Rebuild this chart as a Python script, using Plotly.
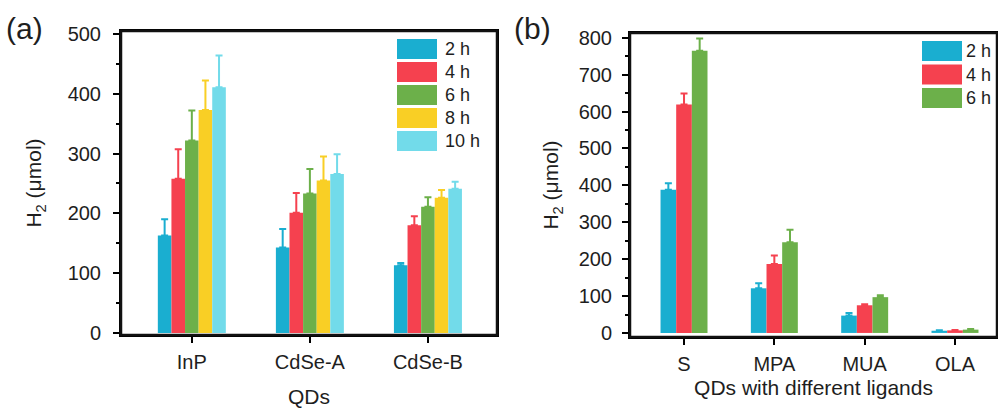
import plotly.graph_objects as go

# ---- data ----
qds = ["InP", "CdSe-A", "CdSe-B"]
times_a = ["2 h", "4 h", "6 h", "8 h", "10 h"]
h2_a = {
    "2 h": [163, 143, 113],
    "4 h": [258, 201, 180],
    "6 h": [322, 233, 211],
    "8 h": [373, 255, 226],
    "10 h": [411, 266, 241],
}
err_a = {
    "2 h": [27, 31, 4],
    "4 h": [49, 33, 15],
    "6 h": [50, 41, 16],
    "8 h": [49, 40, 13],
    "10 h": [53, 33, 12],
}

ligands = ["S", "MPA", "MUA", "OLA"]
times_b = ["2 h", "4 h", "6 h"]
h2_b = {
    "2 h": [388, 121, 47, 6],
    "4 h": [619, 187, 75, 7],
    "6 h": [765, 246, 97, 9],
}
err_b = {
    "2 h": [18, 14, 7, 1],
    "4 h": [30, 23, 3, 1],
    "6 h": [33, 34, 5, 2],
}

colors = {
    "2 h": "#1aaed0",
    "4 h": "#f5414f",
    "6 h": "#6cb04a",
    "8 h": "#f9cf25",
    "10 h": "#72dbea",
}

FONT = "Liberation Sans, Arial, sans-serif"
TXT = "#1e1e1e"

fig = go.Figure()

# panel (a) bars
grp_a = 0.576
w_a = grp_a / len(times_a)
for i, t in enumerate(times_a):
    fig.add_trace(go.Bar(
        x=qds, y=h2_a[t], name=t, xaxis="x", yaxis="y",
        width=w_a, offset=-grp_a / 2 + i * w_a,
        marker=dict(color=colors[t], line=dict(width=0)),
        error_y=dict(type="data", array=err_a[t], arrayminus=[0] * len(qds),
                     symmetric=False, color=colors[t], thickness=2, width=3.5),
        showlegend=False,
    ))

# panel (b) bars
grp_b = 0.52
w_b = grp_b / len(times_b)
for i, t in enumerate(times_b):
    fig.add_trace(go.Bar(
        x=ligands, y=h2_b[t], name=t, xaxis="x2", yaxis="y2",
        width=w_b, offset=-grp_b / 2 + i * w_b,
        marker=dict(color=colors[t], line=dict(width=0)),
        error_y=dict(type="data", array=err_b[t], arrayminus=[0] * len(ligands),
                     symmetric=False, color=colors[t], thickness=2, width=3.5),
        showlegend=False,
    ))

W, H = 998, 408
def px(x):
    return x / W
def py(y):
    return 1 - y / H

LINE = "#000000"
axis_common = dict(
    automargin=False,
    showline=True, linecolor=LINE, linewidth=2, mirror=True,
    showgrid=False, zeroline=False,
    ticks="outside", ticklen=6, tickwidth=1.5, tickcolor=LINE,
    tickfont=dict(family=FONT, size=20, color=TXT),
)

fig.update_layout(
    template="none",
    width=W, height=H,
    margin=dict(l=0, r=0, t=0, b=0, pad=0),
    paper_bgcolor="white", plot_bgcolor="white",
    barmode="overlay",
    showlegend=False,
    font=dict(family=FONT, color=TXT),
    xaxis=dict(axis_common, domain=[px(121), px(497)], anchor="y",
               type="category", range=[-0.6, 2.585], ticklabelstandoff=2,
               title=dict(text="QDs", font=dict(family=FONT, size=21, color=TXT), standoff=20)),
    yaxis=dict(axis_common, domain=[py(335), py(31)], anchor="x",
               range=[-3.5, 505], tickvals=[0, 100, 200, 300, 400, 500],
               minor=dict(ticks="outside", ticklen=3, tickcolor=LINE, dtick=50, tick0=0),
               ticklabelstandoff=8,
               title=dict(text="H<sub>2</sub> (μmol)", font=dict(family=FONT, size=21, color=TXT), standoff=20)),
    xaxis2=dict(axis_common, domain=[px(630), px(997)], anchor="y2",
                type="category", range=[-0.598, 3.465], ticklabelstandoff=2,
                title=dict(text="QDs with different ligands", font=dict(family=FONT, size=21, color=TXT), standoff=6)),
    yaxis2=dict(axis_common, domain=[py(337), py(33)], anchor="x2",
                range=[-11, 813], tickvals=[0, 100, 200, 300, 400, 500, 600, 700, 800],
                minor=dict(ticks="outside", ticklen=3, tickcolor=LINE, dtick=50, tick0=0),
                ticklabelstandoff=6,
                title=dict(text="H<sub>2</sub> (μmol)", font=dict(family=FONT, size=21, color=TXT), standoff=14)),
)

# frames around both panels, drawn as thin filled bands (paper coords)
shapes = []
T = 2.5
for (l, r, t, b) in [(121, 497, 31, 335), (630, 997, 33, 337)]:
    bands = [
        (l - T / 2, r + T / 2, t - T / 2, t + T / 2),   # top
        (l - T / 2, r + T / 2, b - T / 2, b + T / 2),   # bottom
        (l - T / 2, l + T / 2, t - T / 2, b + T / 2),   # left
        (r - T / 2, r + T / 2, t - T / 2, b + T / 2),   # right
    ]
    for (x0, x1, y0, y1) in bands:
        shapes.append(dict(type="rect", xref="paper", yref="paper",
                           x0=px(x0), x1=px(x1), y0=py(y1), y1=py(y0),
                           fillcolor="#111111", line=dict(width=0), layer="above"))
annotations = []

# custom legends (large swatches like the original)
def legend(items, x0, x1, y_top, pitch, sw_h, tx):
    for k, t in enumerate(items):
        y0 = y_top + k * pitch
        shapes.append(dict(type="rect", xref="paper", yref="paper",
                           x0=px(x0), x1=px(x1), y0=py(y0 + sw_h), y1=py(y0),
                           fillcolor=colors[t], line=dict(width=0)))
        annotations.append(dict(xref="paper", yref="paper", x=px(tx), y=py(y0 + sw_h / 2),
                                text=t, showarrow=False, xanchor="left", yanchor="middle",
                                font=dict(family=FONT, size=18, color=TXT)))

legend(times_a, 397, 437, 39, 23, 20, 443)
legend(times_b, 922, 962, 41, 23.5, 20, 964)

annotations.append(dict(xref="paper", yref="paper", x=px(4), y=py(29), text="(a)",
                        showarrow=False, xanchor="left", yanchor="middle",
                        font=dict(family=FONT, size=30, color=TXT)))
annotations.append(dict(xref="paper", yref="paper", x=px(512), y=py(29), text="(b)",
                        showarrow=False, xanchor="left", yanchor="middle",
                        font=dict(family=FONT, size=30, color=TXT)))

fig.update_layout(shapes=shapes, annotations=annotations)

fig.write_html("out.html", config={"displayModeBar": False},
               post_script="document.body.style.margin='0';document.body.style.overflow='hidden';")
